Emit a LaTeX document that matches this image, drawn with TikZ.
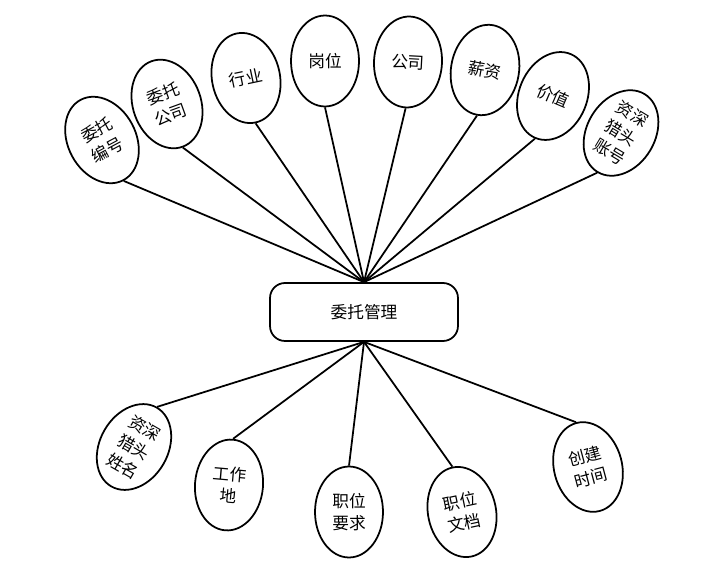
\documentclass[tikz,border=0pt]{standalone}
\usepackage{fontspec}
\newfontfamily\cjk{Noto Sans CJK SC}
\usetikzlibrary{shapes.geometric}
\tikzset{
  mgmtbox/.style={rectangle,draw,rounded corners=0.3cm,minimum width=3.76cm,minimum height=1.16cm,inner sep=1pt},
  attr/.style={ellipse,draw,minimum width=1.36cm,minimum height=1.82cm,inner sep=0pt,align=center}
}

\begin{document}
\begin{tikzpicture}[x=0.02cm,y=-0.02cm,line width=1pt,
    font=\cjk\fontsize{9.5pt}{12.5pt}\selectfont]
        \useasboundingbox (0,0) rectangle (702,570);
        % the entity in the middle
        \node[mgmtbox] (mgmt) at (364,312) {委托管理};
        % attributes above the box, left to right
        \node[attr,rotate=28] (wtbh) at (102,140) {委托\\编号};
        \node[attr,rotate=20] (wtgs) at (167,104) {委托\\公司};
        \node[attr,rotate=12] (hangye) at (246,78) {行业};
        \node[attr] (gangwei) at (325,61) {岗位};
        \node[attr,rotate=-3] (gongsi) at (408,62) {公司};
        \node[attr,rotate=-10] (xinzi) at (485,70) {薪资};
        \node[attr,rotate=-23] (jiazhi) at (553,96) {价值};
        \node[attr,rotate=-31] (lietouzh) at (621,133) {资深\\猎头\\账号};
        % attributes below the box
        \node[attr,rotate=-30] (lietouxm) at (134,447) {资深\\猎头\\姓名};
        \node[attr,rotate=-5] (gzd) at (229,485) {工作\\地};
        \node[attr] (zwyq) at (349,512) {职位\\要求};
        \node[attr,rotate=12] (zwwd) at (462,512) {职位\\文档};
        \node[attr,rotate=15] (cjsj) at (588,467) {创建\\时间};
        % lines meet at the middle of the box's top and bottom edges
        \path[draw]
          (mgmt.north) edge (wtbh.south)
          (mgmt.north) edge (wtgs.south)
          (mgmt.north) edge (hangye.south)
          (mgmt.north) edge (gangwei.south)
          (mgmt.north) edge (gongsi.south)
          (mgmt.north) edge (xinzi.south)
          (mgmt.north) edge (jiazhi.south)
          (mgmt.north) edge (lietouzh.south)
          (mgmt.south) edge (lietouxm.north)
          (mgmt.south) edge (gzd.north)
          (mgmt.south) edge (zwyq.north)
          (mgmt.south) edge (zwwd.north)
          (mgmt.south) edge (cjsj.north);
      \end{tikzpicture}
\end{document}
